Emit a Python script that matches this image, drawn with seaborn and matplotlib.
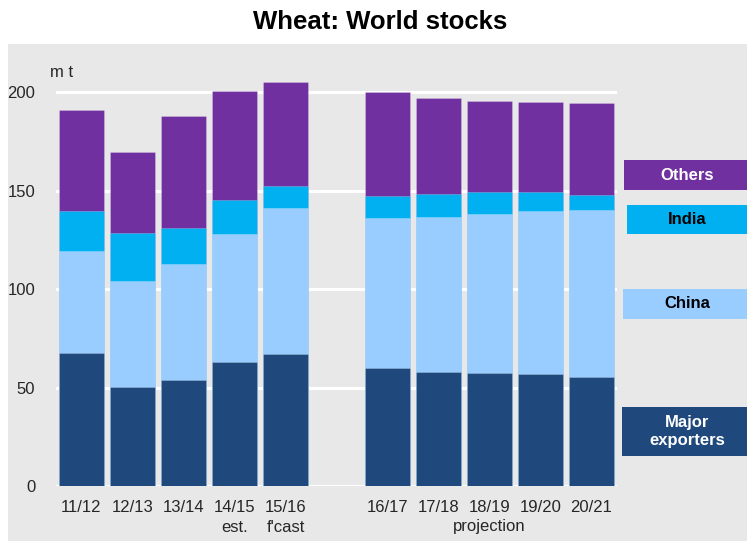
import matplotlib
matplotlib.use("Agg")
import matplotlib.pyplot as plt
from matplotlib.patches import Rectangle
from matplotlib.transforms import blended_transform_factory
import numpy as np
import pandas as pd
import seaborn as sns

# Wheat world stocks by holder, million tonnes
seasons = ["11/12", "12/13", "13/14", "14/15", "15/16",
           "16/17", "17/18", "18/19", "19/20", "20/21"]
notes = ["", "", "", "est.", "f'cast", "", "", "projection", "", ""]
major_exporters = [67.3, 50.3, 54.0, 63.1, 67.2, 59.9, 58.0, 57.5, 57.0, 55.5]
china = [52.0, 53.8, 58.9, 64.8, 73.9, 76.3, 78.5, 80.7, 82.6, 84.4]
india = [20.1, 24.3, 17.9, 17.3, 11.0, 10.8, 11.6, 11.0, 9.6, 7.8]
others = [51.6, 41.3, 56.8, 55.5, 53.0, 53.2, 48.9, 46.1, 45.6, 46.5]
yticks = [0, 50, 100, 150, 200]

series = ["Major exporters", "China", "India", "Others"]
colors = {
    "Major exporters": "#1F497D",
    "China": "#99CCFF",
    "India": "#00B0F0",
    "Others": "#7030A0",
}

df = pd.DataFrame({
    "season": seasons,
    "Major exporters": major_exporters,
    "China": china,
    "India": india,
    "Others": others,
})
# cumulative tops so that layers can be overlaid from the tallest down
cum = df[series].cumsum(axis=1)
cum["season"] = df["season"]

# blank slot separates history from projections
gap = " "
order = seasons[:5] + [gap] + seasons[5:]

sns.set_style("white")
plt.rcParams["font.family"] = ["Liberation Sans", "DejaVu Sans"]

W, H = 747, 541
fig = plt.figure(figsize=(W / 100, H / 100), dpi=100, facecolor="white")
panel_gray = "#E8E8E8"
fig.patches.append(Rectangle((8 / W, 0), 1 - 8 / W, (H - 44) / H,
                             transform=fig.transFigure, facecolor=panel_gray,
                             edgecolor="none", zorder=-10))

ax_bottom, ax_top = 486, 62.5
ax = fig.add_axes([56 / W, (H - ax_bottom) / H, (617 - 56) / W,
                   (ax_bottom - ax_top) / H])
ax.set_facecolor("none")

for name in reversed(series):
    sns.barplot(data=cum, x="season", y=name, order=order, color=colors[name],
                saturation=1, width=0.9, errorbar=None, ax=ax,
                edgecolor=(1, 1, 1, 0.25), linewidth=0.6)

ax.set_xlim(-0.5, len(order) - 0.5)
ax.set_ylim(0, 215)
ax.set_yticks(yticks)
ax.set_yticklabels([str(v) for v in yticks])

ax.set_xticks(range(len(order)))
ax.set_xticklabels(["" if s == gap else s for s in order], fontsize=12)
ax.tick_params(axis="x", length=0, pad=10)
ax.tick_params(axis="y", length=0, pad=15, labelsize=12)
ax.set_xlabel("")
ax.set_ylabel("")
for sp in ax.spines.values():
    sp.set_visible(False)
ax.grid(axis="y", color="white", linewidth=2.2)
ax.grid(axis="x", visible=False)
ax.set_axisbelow(True)

# second line of category notes under the season labels
trans = blended_transform_factory(ax.transData, ax.transAxes)
note_y = (ax_bottom - 527) / (ax_bottom - ax_top)
for s, n in zip(seasons, notes):
    if n:
        ax.text(order.index(s), note_y, n, transform=trans, ha="center",
                va="center", fontsize=12, clip_on=False)

fig.text(380 / W, 1 - 22 / H, "Wheat: World stocks", ha="center", va="center",
         fontsize=18.5, fontweight="bold", color="black")
fig.text(50 / W, 1 - 73 / H, "m t", ha="left", va="center", fontsize=12)

# right-hand labelled colour boxes
boxes = [
    ("Others", 624, 160, 190, "white"),
    ("India", 627, 205, 234, "black"),
    ("China", 623, 289, 319, "black"),
    ("Major exporters", 622, 407, 456, "white"),
]
for name, x0, y0, y1, tc in boxes:
    fig.patches.append(Rectangle((x0 / W, 1 - y1 / H), 1 - x0 / W, (y1 - y0) / H,
                                 transform=fig.transFigure, facecolor=colors[name],
                                 edgecolor="none", zorder=1))
    txt = "Major\nexporters" if name == "Major exporters" else name
    fig.text(687 / W, 1 - (y0 + y1) / 2 / H, txt, ha="center", va="center",
             fontsize=12, fontweight="bold", color=tc, linespacing=1.25, zorder=2)

fig.savefig("out.png", dpi=100, facecolor="white")
